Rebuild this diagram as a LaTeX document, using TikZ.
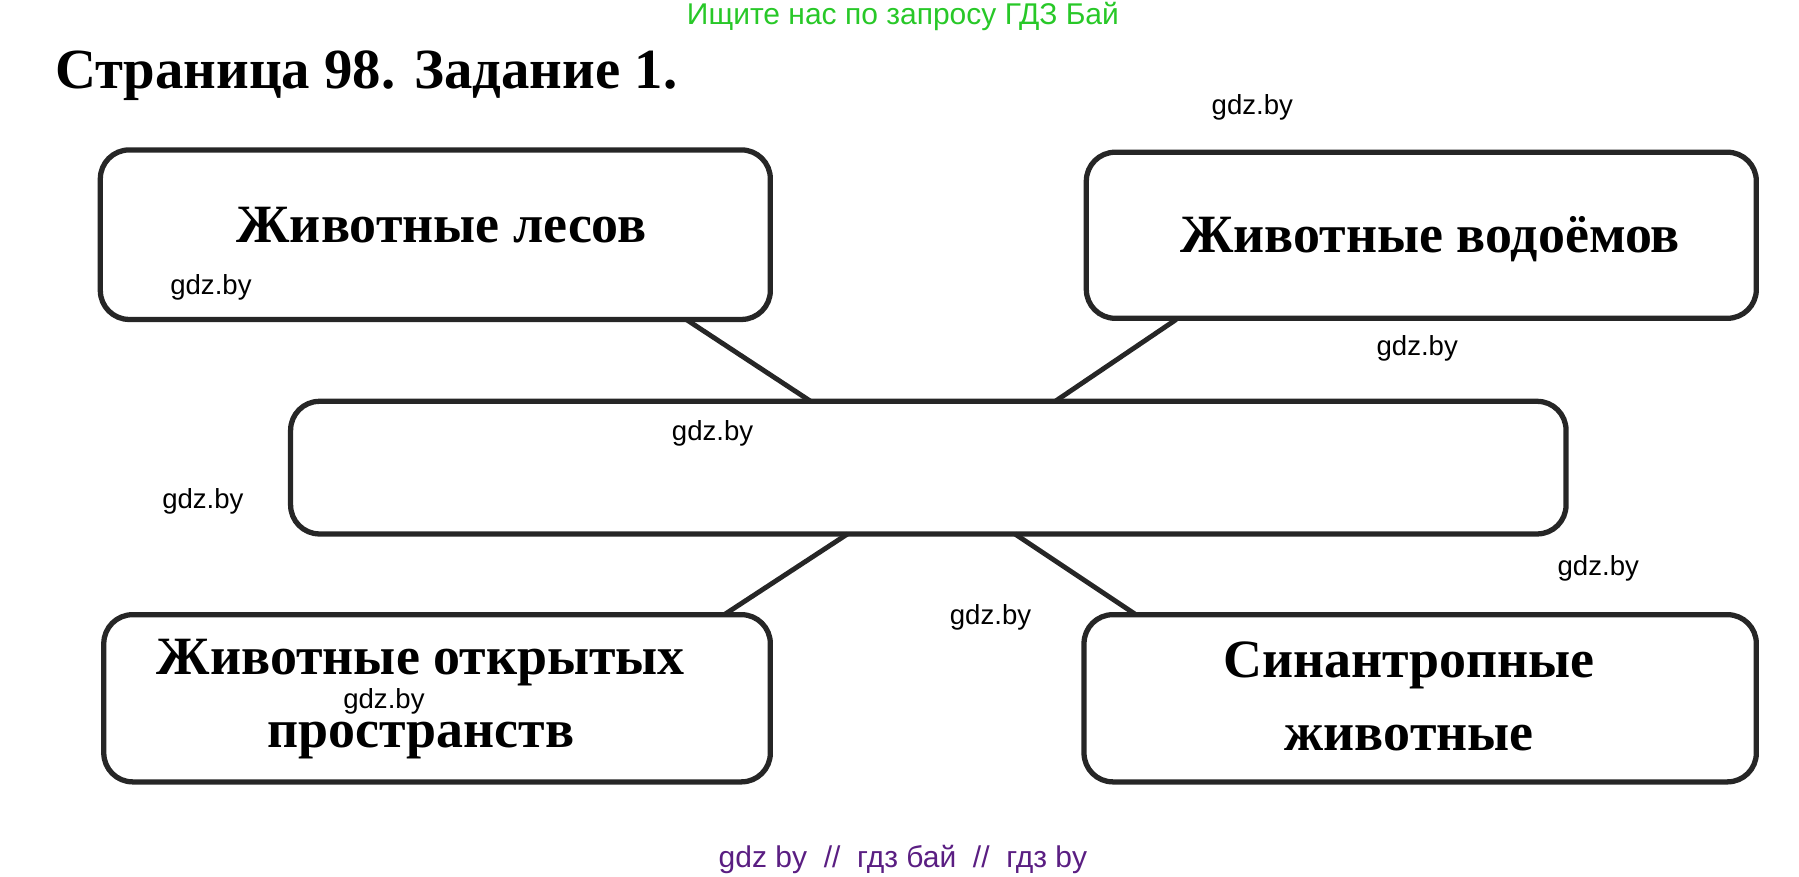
\documentclass[tikz,border=0pt]{standalone}
\usepackage{fontspec}
\setmainfont{Liberation Serif}
\newfontfamily\wm{Liberation Sans}
\begin{document}
\begin{tikzpicture}[x=0.01cm,y=-0.01cm,
  box/.style={draw=black!85,line width=1.3pt,rounded corners=0.25cm},
  lbl/.style={font=\fontsize{13.3}{18}\selectfont\bfseries,align=center},
  wmk/.style={font=\wm\fontsize{6.8}{8}\selectfont,anchor=west,inner sep=0pt},
  con/.style={line width=1.2pt,black!85}]
\useasboundingbox (0,0) rectangle (1560,760);
\node[font=\wm\fontsize{7.4}{9}\selectfont,text={rgb,255:red,40;green,200;blue,40}] (top) at (783,14) {Ищите нас по запросу ГДЗ Бай};
\node[font=\fontsize{14}{16}\selectfont\bfseries,anchor=west,inner sep=0pt] (title) at (47,66) {Страница 98. Задание 1.};
\draw[box] (87,130) rectangle (668,277);
\node[lbl] (a) at (383,195) {Животные лесов};
\draw[box] (942,132) rectangle (1523,276);
\node[lbl] (b) at (1240,207) {Животные водоёмов};
\draw[box] (252,348) rectangle (1358,463);
\node (m) at (805,405) {};
\draw[box] (90,533) rectangle (668,678);
\node[lbl] (c) at (365,606) {Животные открытых\\пространств};
\draw[box] (940,533) rectangle (1523,678);
\node[lbl] (d) at (1222,604) {Синантропные\\животные};
\coordinate (a1) at (595,277); \coordinate (m1) at (703,348);
\coordinate (b1) at (1020,277); \coordinate (m2) at (915,348);
\coordinate (m3) at (735,463); \coordinate (c1) at (628,533);
\coordinate (m4) at (880,463); \coordinate (d1) at (985,533);
\draw[con] (a1)--(m1); \draw[con] (b1)--(m2); \draw[con] (m3)--(c1); \draw[con] (m4)--(d1);
\node[wmk] at (1050,93) {gdz.by};
\node[wmk] at (147,249) {gdz.by};
\node[wmk] at (1193,302) {gdz.by};
\node[wmk] at (582,376) {gdz.by};
\node[wmk] at (140,435) {gdz.by};
\node[wmk] at (1350,493) {gdz.by};
\node[wmk] at (823,535) {gdz.by};
\node[wmk] at (297,608) {gdz.by};
\node[font=\wm\fontsize{7.4}{9}\selectfont,text={rgb,255:red,90;green,30;blue,130}] (bot) at (783,745) {gdz by \ // \ гдз бай \ // \ гдз by};
\end{tikzpicture}
\end{document}
